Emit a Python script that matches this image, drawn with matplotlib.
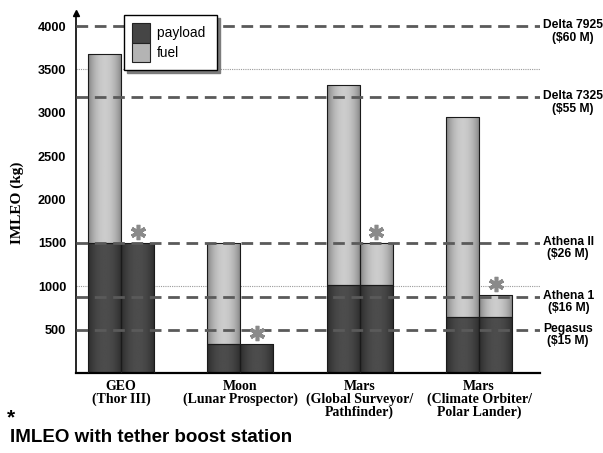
import numpy as np
import matplotlib
matplotlib.use('Agg')
import matplotlib.pyplot as plt
import matplotlib.transforms as mtransforms
from matplotlib.patches import Patch

plt.rcParams['font.family'] = ['Liberation Sans', 'DejaVu Sans']

# missions
groups = ['GEO\n(Thor III)', 'Moon\n(Lunar Prospector)',
          'Mars\n(Global Surveyor/\nPathfinder)',
          'Mars\n(Climate Orbiter/\nPolar Lander)']
payload = [1500, 330, 1010, 650]
# total IMLEO: direct launch, and with tether boost station
total_direct = [3680, 1500, 3320, 2950]
total_tether = [1500, 330, 1500, 900]

# launch vehicle capacities
launchers = ['Delta 7925\n($60 M)', 'Delta 7325\n($55 M)', 'Athena II\n($26 M)',
             'Athena 1\n($16 M)', 'Pegasus\n($15 M)']
capacity = [4000, 3180, 1500, 880, 500]
dotted = [3500, 1000]
yticks = [500, 1000, 1500, 2000, 2500, 3000, 3500, 4000]

fig = plt.figure(figsize=(6.03, 4.53), dpi=100)
ax = fig.add_axes([76/603, 1-373/453, 464/603, 360/453])

w = 0.277
t = np.linspace(0, 1, 64)


def shaded_bar(x, bottom, h, edge, center):
    if h <= 0:
        return
    rect = ax.bar(x, h, w, bottom=bottom, color='none', edgecolor='#1a1a1a',
                  lw=0.8, zorder=3)[0]
    shade = edge + (center - edge) * np.sin(np.pi * t) ** 0.7
    img = ax.imshow(shade[None, :], cmap='gray', vmin=0, vmax=1,
                    extent=(x - w/2, x + w/2, bottom, bottom + h),
                    aspect='auto', zorder=2, interpolation='bilinear')
    img.set_clip_path(rect)


star_tr = mtransforms.offset_copy(ax.transData, fig, y=11, units='dots')
for i in range(len(groups)):
    for dx, tot in [(-w/2, total_direct[i]), (w/2, total_tether[i])]:
        p = min(payload[i], tot)
        shaded_bar(i + dx, 0, p, 0.16, 0.30)
        shaded_bar(i + dx, p, tot - p, 0.48, 0.80)
    ax.plot(i + w/2, total_tether[i], marker=(6, 2, 0), ms=11, mew=2.6,
            color='#8a8a8a', transform=star_tr, zorder=5, clip_on=False)

for v in dotted:
    ax.axhline(v, color='#9a9a9a', lw=0.8, ls=(0, (1, 1)), zorder=1)

for v, lab in zip(capacity, launchers):
    ax.axhline(v, color='#5a5a5a', lw=2, ls=(0, (4.2, 2.4)), zorder=4)
    ax.annotate(lab, xy=(1, v), xycoords=ax.get_yaxis_transform(),
                xytext=(2, 5), textcoords='offset points', ha='left', va='top',
                multialignment='center', fontsize=8.7, fontweight='bold',
                linespacing=1.05, annotation_clip=False)

ax.set_xlim(-0.377, 3.51)
ax.set_ylim(0, 4150)
ax.set_xticks(range(len(groups)))
ax.set_xticklabels(groups, family='Liberation Serif', fontweight='bold',
                   fontsize=10, linespacing=0.95)
ax.set_yticks(yticks)
ax.set_yticklabels([str(v) for v in yticks], fontweight='bold', fontsize=9.2)
ax.tick_params(axis='x', length=0, pad=5)
ax.tick_params(axis='y', length=0, pad=7)

for s in ['top', 'right']:
    ax.spines[s].set_visible(False)
ax.spines['bottom'].set_linewidth(1.6)
ax.spines['left'].set_linewidth(1.2)
ax.plot(0, 1, marker='^', ms=5, color='k', transform=ax.transAxes, clip_on=False)

handles = [Patch(facecolor='#454545', edgecolor='#222222', lw=0.8),
           Patch(facecolor='#b4b4b4', edgecolor='#222222', lw=0.8)]
leg = ax.legend(handles, ['payload ', 'fuel'], loc='upper left',
                bbox_to_anchor=(0.103, 0.994), borderaxespad=0,
                fontsize=9.8, handlelength=1.3, handleheight=1.8,
                labelspacing=0, handletextpad=0.55, borderpad=0.6,
                fancybox=False, framealpha=1, edgecolor='black',
                shadow={'color': '#7c7c7c', 'alpha': 1})
leg.get_frame().set_linewidth(1.0)
leg.set_zorder(6)

fig.text(17/603, 1-203/453, 'IMLEO (kg)', rotation=90, ha='center',
         va='center', family='Liberation Serif', fontweight='bold', fontsize=11)

fig.text(7/603, 1-423/453, '*', fontsize=15, fontweight='bold', va='baseline')
fig.text(10/603, 1-437/453, 'IMLEO with tether boost station',
         fontsize=13.5, fontweight='bold', va='center')

fig.savefig('out.png', dpi=100)
